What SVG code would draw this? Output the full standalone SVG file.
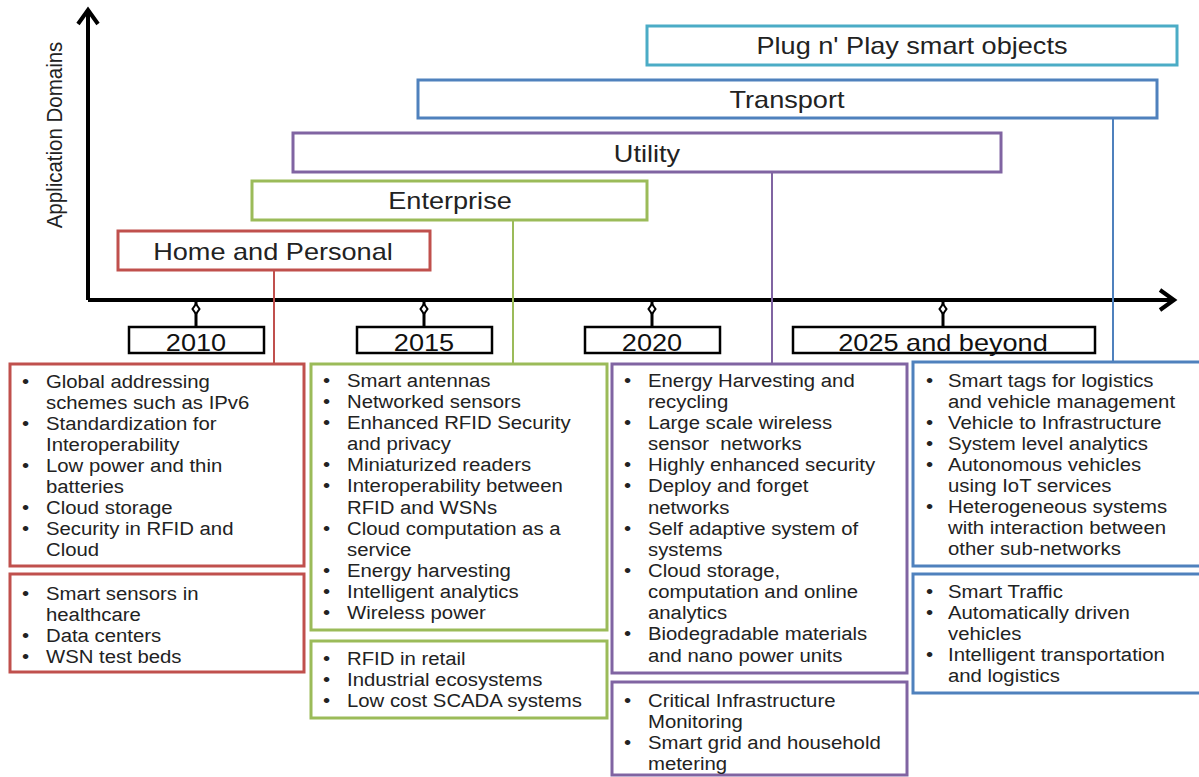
<svg xmlns="http://www.w3.org/2000/svg" width="1199" height="777" viewBox="0 0 1199 777">
<style>
text{font-family:"Liberation Sans",Arial,sans-serif;fill:#222}
.dom{font-size:24px;text-anchor:middle}
.yr{font-size:24px;text-anchor:middle;fill:#111}
.li{font-size:18px}
.box{fill:#fff;stroke-width:3}
.dbox{fill:#fff;stroke-width:3}
.r{stroke:#c0504d}.g{stroke:#9bbb59}.p{stroke:#8064a2}.b{stroke:#4f81bd}.a{stroke:#4bacc6}
.conn{fill:none;stroke-width:2}
.axis{fill:none;stroke:#000;stroke-width:4}
.ybox{fill:#fff;stroke:#000;stroke-width:2.5}
</style>
<rect width="1199" height="777" fill="#fff"/>

<g id="axes">
<path class="axis" d="M88 300 V10"/>
<path class="axis" d="M78 24 L88 10 L98 24" stroke-linejoin="miter"/>
<path class="axis" d="M88 300 H1174"/>
<path class="axis" d="M1160 290 L1174 300 L1160 310"/>
<text transform="translate(62 135) rotate(-90) scale(1 1.1)" style="font-size:20.5px;text-anchor:middle">Application Domains</text>
</g>

<g id="connectors">
<line class="conn r" x1="274" y1="270" x2="274" y2="364"/>
<line class="conn g" x1="513" y1="220" x2="513" y2="364"/>
<line class="conn p" x1="772" y1="172" x2="772" y2="364"/>
<line class="conn b" x1="1113" y1="118" x2="1113" y2="362"/>
</g>

<g id="plug"><rect class="dbox a" x="647" y="26" width="530" height="39"/><text class="dom" transform="translate(912 54) scale(1.13 1)">Plug n' Play smart objects</text></g>
<g id="transport"><rect class="dbox b" x="418" y="80" width="739" height="38"/><text class="dom" transform="translate(787 108) scale(1.13 1)">Transport</text></g>
<g id="utility"><rect class="dbox p" x="293" y="133" width="708" height="39"/><text class="dom" transform="translate(647 162) scale(1.13 1)">Utility</text></g>
<g id="enterprise"><rect class="dbox g" x="252" y="181" width="395" height="39"/><text class="dom" transform="translate(450 209) scale(1.13 1)">Enterprise</text></g>
<g id="home"><rect class="dbox r" x="118" y="231" width="312" height="39"/><text class="dom" transform="translate(273 260) scale(1.13 1)">Home and Personal</text></g>

<g id="ticks">
<g><line x1="196" y1="300" x2="196" y2="327" stroke="#000" stroke-width="3"/><path d="M196 304 L199.5 309 L196 314 L192.5 309Z" fill="#fff" stroke="#000" stroke-width="2"/></g>
<g><line x1="424" y1="300" x2="424" y2="327" stroke="#000" stroke-width="3"/><path d="M424 304 L427.5 309 L424 314 L420.5 309Z" fill="#fff" stroke="#000" stroke-width="2"/></g>
<g><line x1="652" y1="300" x2="652" y2="327" stroke="#000" stroke-width="3"/><path d="M652 304 L655.5 309 L652 314 L648.5 309Z" fill="#fff" stroke="#000" stroke-width="2"/></g>
<g><line x1="943" y1="300" x2="943" y2="327" stroke="#000" stroke-width="3"/><path d="M943 304 L946.5 309 L943 314 L939.5 309Z" fill="#fff" stroke="#000" stroke-width="2"/></g>
</g>

<g id="y2010"><rect class="ybox" x="129" y="327" width="135" height="26"/><text class="yr" transform="translate(196 351) scale(1.13 1)">2010</text></g>
<g id="y2015"><rect class="ybox" x="357" y="327" width="135" height="26"/><text class="yr" transform="translate(424 351) scale(1.13 1)">2015</text></g>
<g id="y2020"><rect class="ybox" x="585" y="327" width="135" height="26"/><text class="yr" transform="translate(652 351) scale(1.13 1)">2020</text></g>
<g id="y2025"><rect class="ybox" x="793" y="327" width="302" height="26"/><text class="yr" transform="translate(943 351) scale(1.13 1)">2025 and beyond</text></g>

<g id="home-tech">
<rect class="box r" x="10" y="364" width="294" height="202"/>
<g transform="translate(22 0) scale(1.13 1)" class="li">
<text class="li" y="388">•</text><text class="li" y="430">•</text><text class="li" y="472">•</text><text class="li" y="514">•</text><text class="li" y="535">•</text>
</g>
<g transform="translate(46 0) scale(1.13 1)">
<text class="li" y="388">Global addressing</text>
<text class="li" y="409">schemes such as IPv6</text>
<text class="li" y="430">Standardization for</text>
<text class="li" y="451">Interoperability</text>
<text class="li" y="472">Low power and thin</text>
<text class="li" y="493">batteries</text>
<text class="li" y="514">Cloud storage</text>
<text class="li" y="535">Security in RFID and</text>
<text class="li" y="556">Cloud</text>
</g>
</g>

<g id="home-apps">
<rect class="box r" x="10" y="574" width="294" height="98"/>
<g transform="translate(22 0) scale(1.13 1)">
<text class="li" y="600">•</text><text class="li" y="642">•</text><text class="li" y="663">•</text>
</g>
<g transform="translate(46 0) scale(1.13 1)">
<text class="li" y="600">Smart sensors in</text>
<text class="li" y="621">healthcare</text>
<text class="li" y="642">Data centers</text>
<text class="li" y="663">WSN test beds</text>
</g>
</g>

<g id="ent-tech">
<rect class="box g" x="311" y="364" width="296" height="266"/>
<g transform="translate(323 0) scale(1.13 1)">
<text class="li" y="387">•</text><text class="li" y="408">•</text><text class="li" y="429">•</text><text class="li" y="471">•</text><text class="li" y="492">•</text><text class="li" y="535">•</text><text class="li" y="577">•</text><text class="li" y="598">•</text><text class="li" y="619">•</text>
</g>
<g transform="translate(347 0) scale(1.13 1)">
<text class="li" y="387">Smart antennas</text>
<text class="li" y="408">Networked sensors</text>
<text class="li" y="429">Enhanced RFID Security</text>
<text class="li" y="450">and privacy</text>
<text class="li" y="471">Miniaturized readers</text>
<text class="li" y="492">Interoperability between</text>
<text class="li" y="514">RFID and WSNs</text>
<text class="li" y="535">Cloud computation as a</text>
<text class="li" y="556">service</text>
<text class="li" y="577">Energy harvesting</text>
<text class="li" y="598">Intelligent analytics</text>
<text class="li" y="619">Wireless power</text>
</g>
</g>

<g id="ent-apps">
<rect class="box g" x="311" y="641" width="296" height="77"/>
<g transform="translate(323 0) scale(1.13 1)">
<text class="li" y="665">•</text><text class="li" y="686">•</text><text class="li" y="707">•</text>
</g>
<g transform="translate(347 0) scale(1.13 1)">
<text class="li" y="665">RFID in retail</text>
<text class="li" y="686">Industrial ecosystems</text>
<text class="li" y="707">Low cost SCADA systems</text>
</g>
</g>

<g id="util-tech">
<rect class="box p" x="612" y="364" width="295" height="309"/>
<g transform="translate(624 0) scale(1.13 1)">
<text class="li" y="387">•</text><text class="li" y="429">•</text><text class="li" y="471">•</text><text class="li" y="492">•</text><text class="li" y="535">•</text><text class="li" y="577">•</text><text class="li" y="640">•</text>
</g>
<g transform="translate(648 0) scale(1.13 1)">
<text class="li" y="387">Energy Harvesting and</text>
<text class="li" y="408">recycling</text>
<text class="li" y="429">Large scale wireless</text>
<text class="li" y="450" xml:space="preserve">sensor  networks</text>
<text class="li" y="471">Highly enhanced security</text>
<text class="li" y="492">Deploy and forget</text>
<text class="li" y="514">networks</text>
<text class="li" y="535">Self adaptive system of</text>
<text class="li" y="556">systems</text>
<text class="li" y="577">Cloud storage,</text>
<text class="li" y="598">computation and online</text>
<text class="li" y="619">analytics</text>
<text class="li" y="640">Biodegradable materials</text>
<text class="li" y="662">and nano power units</text>
</g>
</g>

<g id="util-apps">
<rect class="box p" x="612" y="682" width="295" height="93"/>
<g transform="translate(624 0) scale(1.13 1)">
<text class="li" y="707">•</text><text class="li" y="749">•</text>
</g>
<g transform="translate(648 0) scale(1.13 1)">
<text class="li" y="707">Critical Infrastructure</text>
<text class="li" y="728">Monitoring</text>
<text class="li" y="749">Smart grid and household</text>
<text class="li" y="770">metering</text>
</g>
</g>

<g id="trans-tech">
<rect class="box b" x="913" y="362" width="300" height="204"/>
<g transform="translate(926 0) scale(1.13 1)">
<text class="li" y="387">•</text><text class="li" y="429">•</text><text class="li" y="450">•</text><text class="li" y="471">•</text><text class="li" y="513">•</text>
</g>
<g transform="translate(948 0) scale(1.13 1)">
<text class="li" y="387">Smart tags for logistics</text>
<text class="li" y="408">and vehicle management</text>
<text class="li" y="429">Vehicle to Infrastructure</text>
<text class="li" y="450">System level analytics</text>
<text class="li" y="471">Autonomous vehicles</text>
<text class="li" y="492">using IoT services</text>
<text class="li" y="513">Heterogeneous systems</text>
<text class="li" y="534">with interaction between</text>
<text class="li" y="555">other sub-networks</text>
</g>
</g>

<g id="trans-apps">
<rect class="box b" x="913" y="574" width="300" height="119"/>
<g transform="translate(926 0) scale(1.13 1)">
<text class="li" y="598">•</text><text class="li" y="619">•</text><text class="li" y="661">•</text>
</g>
<g transform="translate(948 0) scale(1.13 1)">
<text class="li" y="598">Smart Traffic</text>
<text class="li" y="619">Automatically driven</text>
<text class="li" y="640">vehicles</text>
<text class="li" y="661">Intelligent transportation</text>
<text class="li" y="682">and logistics</text>
</g>
</g>
</svg>
